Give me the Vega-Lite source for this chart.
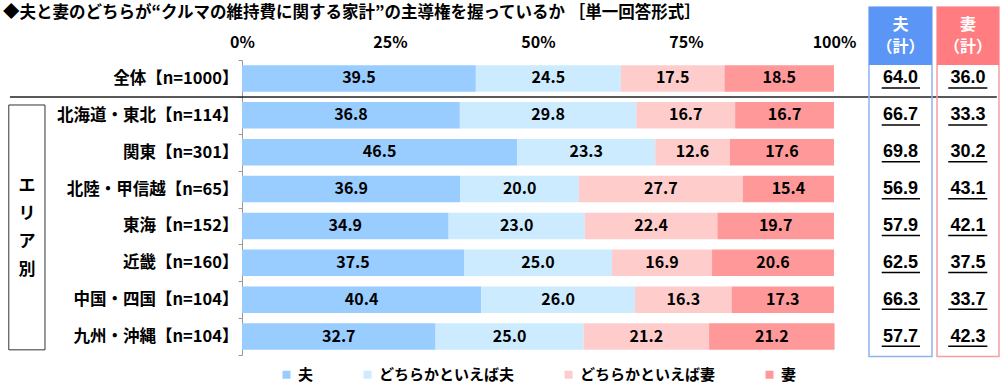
{
  "$schema": "https://vega.github.io/schema/vega-lite/v6.json",
  "width": 592,
  "height": 295,
  "autosize": {"type": "none"},
  "padding": {"left": 242, "top": 60, "right": 166, "bottom": 35},
  "title": {
    "text": "◆夫と妻のどちらが“クルマの維持費に関する家計”の主導権を握っているか ［単一回答形式］",
    "anchor": "start", "frame": "group", "dx": -239, "offset": -15,
    "fontSize": 16.5, "fontWeight": "bold", "font": "Noto Sans CJK JP", "color": "#000"
  },
  "datasets": {
    "bars": [
      {"row": "全体【n=1000】", "cat": "夫", "k": 1, "value": 39.5},
      {"row": "全体【n=1000】", "cat": "どちらかといえば夫", "k": 2, "value": 24.5},
      {"row": "全体【n=1000】", "cat": "どちらかといえば妻", "k": 3, "value": 17.5},
      {"row": "全体【n=1000】", "cat": "妻", "k": 4, "value": 18.5},
      {"row": "北海道・東北【n=114】", "cat": "夫", "k": 1, "value": 36.8},
      {"row": "北海道・東北【n=114】", "cat": "どちらかといえば夫", "k": 2, "value": 29.8},
      {"row": "北海道・東北【n=114】", "cat": "どちらかといえば妻", "k": 3, "value": 16.7},
      {"row": "北海道・東北【n=114】", "cat": "妻", "k": 4, "value": 16.7},
      {"row": "関東【n=301】", "cat": "夫", "k": 1, "value": 46.5},
      {"row": "関東【n=301】", "cat": "どちらかといえば夫", "k": 2, "value": 23.3},
      {"row": "関東【n=301】", "cat": "どちらかといえば妻", "k": 3, "value": 12.6},
      {"row": "関東【n=301】", "cat": "妻", "k": 4, "value": 17.6},
      {"row": "北陸・甲信越【n=65】", "cat": "夫", "k": 1, "value": 36.9},
      {"row": "北陸・甲信越【n=65】", "cat": "どちらかといえば夫", "k": 2, "value": 20.0},
      {"row": "北陸・甲信越【n=65】", "cat": "どちらかといえば妻", "k": 3, "value": 27.7},
      {"row": "北陸・甲信越【n=65】", "cat": "妻", "k": 4, "value": 15.4},
      {"row": "東海【n=152】", "cat": "夫", "k": 1, "value": 34.9},
      {"row": "東海【n=152】", "cat": "どちらかといえば夫", "k": 2, "value": 23.0},
      {"row": "東海【n=152】", "cat": "どちらかといえば妻", "k": 3, "value": 22.4},
      {"row": "東海【n=152】", "cat": "妻", "k": 4, "value": 19.7},
      {"row": "近畿【n=160】", "cat": "夫", "k": 1, "value": 37.5},
      {"row": "近畿【n=160】", "cat": "どちらかといえば夫", "k": 2, "value": 25.0},
      {"row": "近畿【n=160】", "cat": "どちらかといえば妻", "k": 3, "value": 16.9},
      {"row": "近畿【n=160】", "cat": "妻", "k": 4, "value": 20.6},
      {"row": "中国・四国【n=104】", "cat": "夫", "k": 1, "value": 40.4},
      {"row": "中国・四国【n=104】", "cat": "どちらかといえば夫", "k": 2, "value": 26.0},
      {"row": "中国・四国【n=104】", "cat": "どちらかといえば妻", "k": 3, "value": 16.3},
      {"row": "中国・四国【n=104】", "cat": "妻", "k": 4, "value": 17.3},
      {"row": "九州・沖縄【n=104】", "cat": "夫", "k": 1, "value": 32.7},
      {"row": "九州・沖縄【n=104】", "cat": "どちらかといえば夫", "k": 2, "value": 25.0},
      {"row": "九州・沖縄【n=104】", "cat": "どちらかといえば妻", "k": 3, "value": 21.2},
      {"row": "九州・沖縄【n=104】", "cat": "妻", "k": 4, "value": 21.2}
    ],
    "totals": [
      {"row": "全体【n=1000】", "husband": 64.0, "wife": 36.0},
      {"row": "北海道・東北【n=114】", "husband": 66.7, "wife": 33.3},
      {"row": "関東【n=301】", "husband": 69.8, "wife": 30.2},
      {"row": "北陸・甲信越【n=65】", "husband": 56.9, "wife": 43.1},
      {"row": "東海【n=152】", "husband": 57.9, "wife": 42.1},
      {"row": "近畿【n=160】", "husband": 62.5, "wife": 37.5},
      {"row": "中国・四国【n=104】", "husband": 66.3, "wife": 33.7},
      {"row": "九州・沖縄【n=104】", "husband": 57.7, "wife": 42.3}
    ]
  },
  "layer": [
    {
      "data": {"name": "bars"},
      "mark": {"type": "bar", "height": {"band": 0.72}},
      "encoding": {
        "y": {
          "field": "row", "type": "nominal",
          "scale": {
            "domain": ["全体【n=1000】", "北海道・東北【n=114】", "関東【n=301】", "北陸・甲信越【n=65】", "東海【n=152】", "近畿【n=160】", "中国・四国【n=104】", "九州・沖縄【n=104】"],
            "paddingInner": 0, "paddingOuter": 0
          },
          "axis": {
            "title": null, "labelFontSize": 16.5, "labelFontWeight": "bold", "labelColor": "#000",
            "labelFont": "Noto Sans CJK JP", "tickBand": "extent", "tickSize": 4, "tickColor": "#999",
            "domainColor": "#999", "labelPadding": 0, "labelLimit": 260
          }
        },
        "x": {
          "field": "value", "type": "quantitative", "stack": "zero",
          "scale": {"domain": [0, 100], "nice": false},
          "axis": {
            "orient": "top", "title": null, "values": [0, 25, 50, 75, 100],
            "labelExpr": "datum.value + '%'", "domain": false, "ticks": false, "grid": false,
            "labelFlush": false, "labelOverlap": false,
            "labelPadding": 10, "labelFontSize": 16, "labelFontWeight": "bold", "labelColor": "#000",
            "labelFont": "Noto Sans CJK JP"
          }
        },
        "color": {
          "field": "cat", "type": "nominal",
          "scale": {
            "domain": ["夫", "どちらかといえば夫", "どちらかといえば妻", "妻"],
            "range": ["#99CCFF", "#CCEBFF", "#FFCCCC", "#FF9999"]
          },
          "legend": {
            "title": null, "orient": "bottom", "direction": "horizontal", "symbolType": "square",
            "symbolSize": 64, "symbolStrokeWidth": 0, "labelFontSize": 15, "labelFontWeight": "bold",
            "labelColor": "#000", "labelFont": "Noto Sans CJK JP", "columnPadding": 46, "offset": 12
          }
        },
        "order": {"field": "k"}
      }
    },
    {
      "data": {"name": "bars"},
      "mark": {"type": "text", "fontSize": 16, "fontWeight": "bold", "color": "#000", "font": "Noto Sans CJK JP"},
      "encoding": {
        "y": {"field": "row", "type": "nominal"},
        "x": {"field": "value", "type": "quantitative", "stack": "zero", "bandPosition": 0.5},
        "detail": {"field": "cat"},
        "order": {"field": "k"},
        "text": {"field": "value", "format": ".1f"}
      }
    },
    {
      "data": {"values": [{}]},
      "mark": {"type": "rule", "color": "#222", "strokeWidth": 1.5},
      "encoding": {
        "y": {"datum": "北海道・東北【n=114】", "type": "nominal", "bandPosition": 0},
        "x": {"datum": -39.2, "type": "quantitative"},
        "x2": {"datum": 127.5}
      }
    },
    {
      "data": {"values": [{}]},
      "mark": {"type": "rect", "fill": "transparent", "stroke": "#333", "strokeWidth": 1},
      "encoding": {
        "y": {"datum": "北海道・東北【n=114】", "type": "nominal", "bandPosition": 0.22},
        "y2": {"datum": "九州・沖縄【n=104】", "bandPosition": 0.86},
        "x": {"datum": -39.39, "type": "quantitative"},
        "x2": {"datum": -33.28}
      }
    },
    {
      "data": {"values": [{}]},
      "mark": {"type": "text", "fontSize": 17, "fontWeight": "bold", "color": "#000", "lineHeight": 28, "baseline": "middle", "font": "Noto Sans CJK JP"},
      "encoding": {
        "y": {"datum": "東海【n=152】", "type": "nominal", "bandPosition": -0.58},
        "x": {"datum": -36.32, "type": "quantitative"},
        "text": {"value": ["エ", "リ", "ア", "別"]}
      }
    },
    {
      "data": {"values": [{}]},
      "mark": {"type": "rect", "fill": "transparent", "stroke": "#8DB3EE", "strokeWidth": 1.5},
      "encoding": {
        "y": {"datum": "全体【n=1000】", "type": "nominal", "bandPosition": -1.437},
        "y2": {"datum": "九州・沖縄【n=104】", "bandPosition": 1.04},
        "x": {"datum": 105.91, "type": "quantitative"},
        "x2": {"datum": 116.55}
      }
    },
    {
      "data": {"values": [{}]},
      "mark": {"type": "rect", "fill": "transparent", "stroke": "#F2A0A2", "strokeWidth": 1.5},
      "encoding": {
        "y": {"datum": "全体【n=1000】", "type": "nominal", "bandPosition": -1.437},
        "y2": {"datum": "九州・沖縄【n=104】", "bandPosition": 1.04},
        "x": {"datum": 117.4, "type": "quantitative"},
        "x2": {"datum": 127.87}
      }
    },
    {
      "data": {"values": [{}]},
      "mark": {"type": "rect", "fill": "#5B95F5"},
      "encoding": {
        "y": {"datum": "全体【n=1000】", "type": "nominal", "bandPosition": -1.437},
        "y2": {"datum": "全体【n=1000】", "bandPosition": 0.136},
        "x": {"datum": 105.91, "type": "quantitative"},
        "x2": {"datum": 116.55}
      }
    },
    {
      "data": {"values": [{}]},
      "mark": {"type": "rect", "fill": "#FF7C80"},
      "encoding": {
        "y": {"datum": "全体【n=1000】", "type": "nominal", "bandPosition": -1.437},
        "y2": {"datum": "全体【n=1000】", "bandPosition": 0.136},
        "x": {"datum": 117.4, "type": "quantitative"},
        "x2": {"datum": 127.87}
      }
    },
    {
      "data": {"values": [{}]},
      "mark": {"type": "text", "fontSize": 16, "fontWeight": "bold", "color": "#fff", "lineHeight": 22, "baseline": "middle", "font": "Noto Sans CJK JP"},
      "encoding": {
        "y": {"datum": "全体【n=1000】", "type": "nominal", "bandPosition": -0.95},
        "x": {"datum": 111.23, "type": "quantitative"},
        "text": {"value": ["夫", "（計）"]}
      }
    },
    {
      "data": {"values": [{}]},
      "mark": {"type": "text", "fontSize": 16, "fontWeight": "bold", "color": "#fff", "lineHeight": 22, "baseline": "middle", "font": "Noto Sans CJK JP"},
      "encoding": {
        "y": {"datum": "全体【n=1000】", "type": "nominal", "bandPosition": -0.95},
        "x": {"datum": 122.64, "type": "quantitative"},
        "text": {"value": ["妻", "（計）"]}
      }
    },
    {
      "data": {"name": "totals"},
      "mark": {"type": "text", "fontSize": 18, "fontWeight": "bold", "color": "#000", "font": "Liberation Sans"},
      "encoding": {
        "y": {"field": "row", "type": "nominal"},
        "x": {"datum": 111.23, "type": "quantitative"},
        "text": {"field": "husband", "format": ".1f"}
      }
    },
    {
      "data": {"name": "totals"},
      "mark": {"type": "text", "fontSize": 18, "fontWeight": "bold", "color": "#000", "font": "Liberation Sans"},
      "encoding": {
        "y": {"field": "row", "type": "nominal"},
        "x": {"datum": 122.64, "type": "quantitative"},
        "text": {"field": "wife", "format": ".1f"}
      }
    },
    {
      "data": {"name": "totals"},
      "mark": {"type": "rule", "color": "#000", "strokeWidth": 1.5},
      "encoding": {
        "y": {"field": "row", "type": "nominal", "bandPosition": 0.76},
        "x": {"datum": 108.06, "type": "quantitative"},
        "x2": {"datum": 114.53}
      }
    },
    {
      "data": {"name": "totals"},
      "mark": {"type": "rule", "color": "#000", "strokeWidth": 1.5},
      "encoding": {
        "y": {"field": "row", "type": "nominal", "bandPosition": 0.76},
        "x": {"datum": 119.3, "type": "quantitative"},
        "x2": {"datum": 125.9}
      }
    }
  ],
  "config": {
    "view": {"stroke": null},
    "font": "Noto Sans CJK JP",
    "legend": {"layout": {"bottom": {"anchor": "middle"}}}
  }
}
